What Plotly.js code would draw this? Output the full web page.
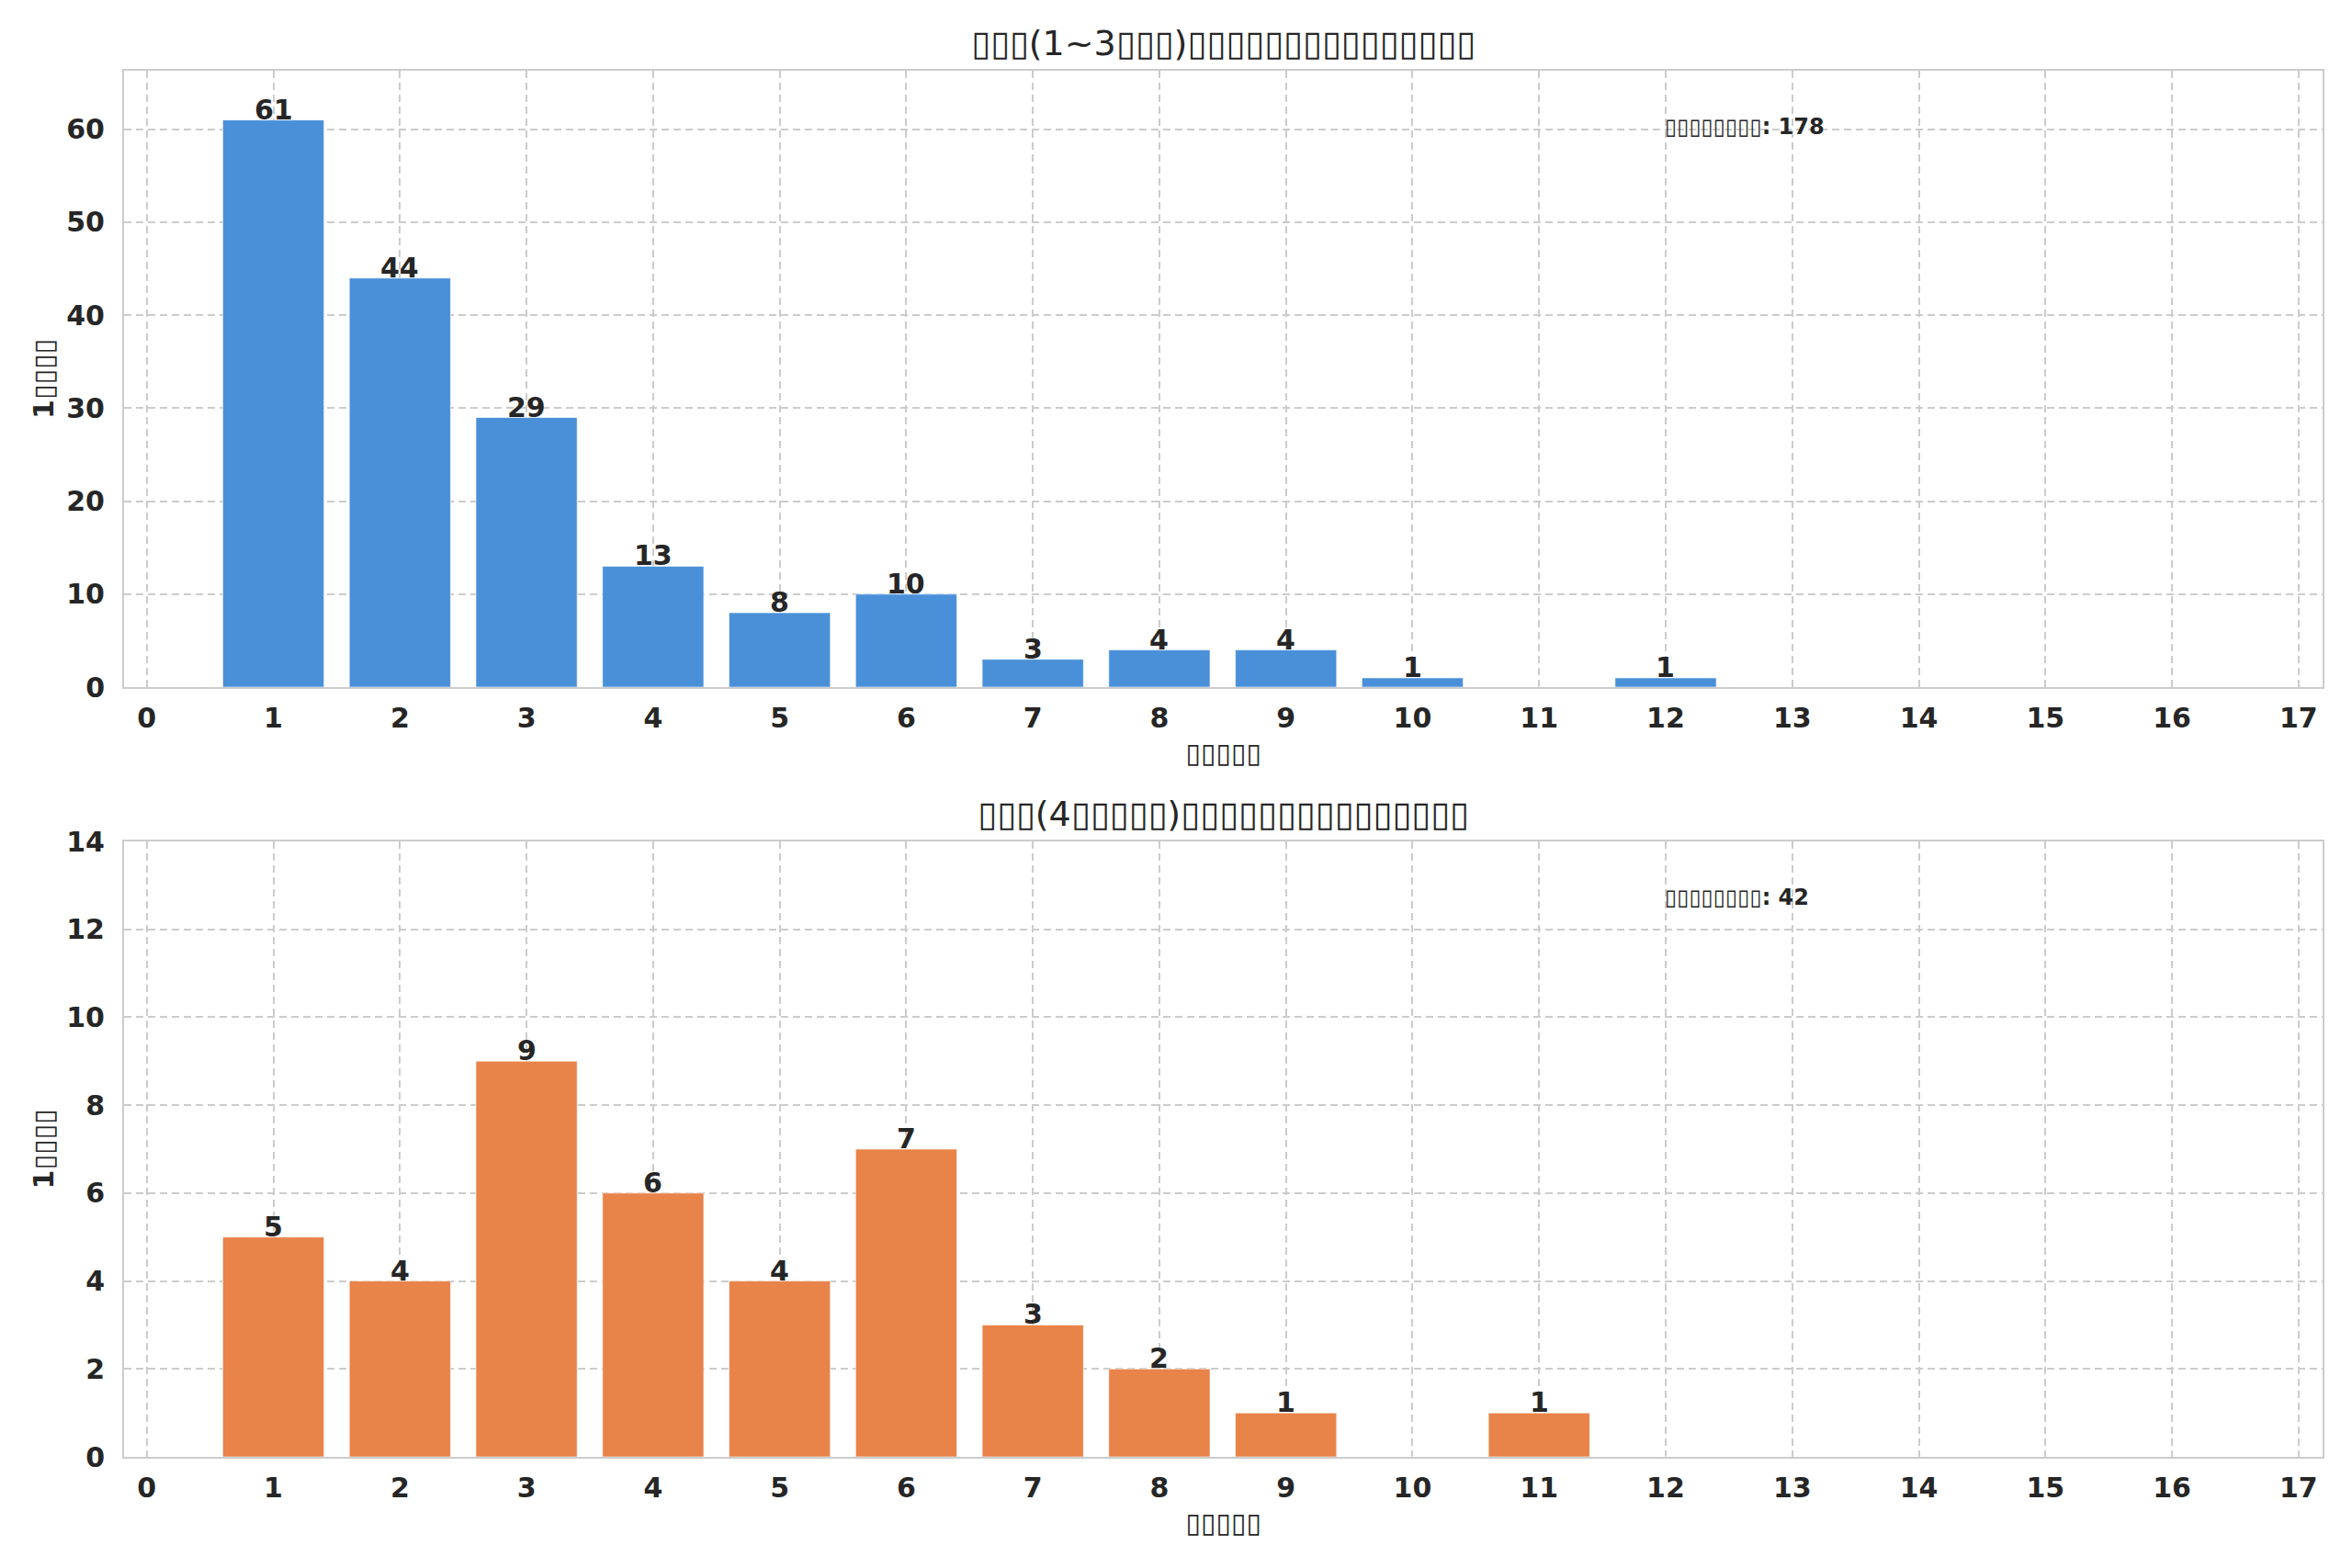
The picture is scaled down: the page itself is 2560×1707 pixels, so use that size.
<!DOCTYPE html>
<html>
<head>
<meta charset="utf-8">
<script src="https://cdn.plot.ly/plotly-3.0.1.min.js"></script>
<style>
  html, body { margin: 0; padding: 0; background: #ffffff; }
  #chart { width: 2560px; height: 1707px; }
</style>
</head>
<body>
<div id="chart"></div>
<script>
// Data (labels in the source rendered as missing glyphs)
var positions = [1, 2, 3, 4, 5, 6, 7, 8, 9, 10, 11, 12];
var groupA = [61, 44, 29, 13, 8, 10, 3, 4, 4, 1, 0, 1];
var groupB = [5, 4, 9, 6, 4, 7, 3, 2, 1, 0, 1, 0];
var xTicks = [0, 1, 2, 3, 4, 5, 6, 7, 8, 9, 10, 11, 12, 13, 14, 15, 16, 17];

var titleA = "▯▯▯(1~3▯▯▯)▯▯▯▯▯▯▯▯▯▯▯▯▯▯▯";
var titleB = "▯▯▯(4▯▯▯▯▯)▯▯▯▯▯▯▯▯▯▯▯▯▯▯▯";
var xLabel = "▯▯▯▯▯";
var yLabel = "1▯▯▯▯";
var noteLabel = "▯▯▯▯▯▯▯▯";
var totalA = 178;
var totalB = 42;

var textColor = '#262626';
var tickFont = { family: 'DejaVu Sans', size: 30, color: textColor, weight: 'bold' };
var labelFont = { family: 'DejaVu Sans', size: 30, color: textColor, weight: 'bold' };

function barLabels(values, xref, yref) {
  var out = [];
  values.forEach(function (v, i) {
    if (v > 0) {
      out.push({
        text: String(v), x: positions[i], y: v, xref: xref, yref: yref,
        xanchor: 'center', yanchor: 'bottom', yshift: -8, showarrow: false,
        font: tickFont
      });
    }
  });
  return out;
}

var traceA = {
  x: positions,
  y: groupA,
  type: 'bar',
  width: 0.8,
  xaxis: 'x',
  yaxis: 'y',
  marker: { color: '#4a90d9', line: { color: 'rgba(255,255,255,0.6)', width: 1 } },
  hoverinfo: 'x+y'
};

var traceB = {
  x: positions,
  y: groupB,
  type: 'bar',
  width: 0.8,
  xaxis: 'x2',
  yaxis: 'y2',
  marker: { color: '#e8834a', line: { color: 'rgba(255,255,255,0.6)', width: 1 } },
  hoverinfo: 'x+y'
};

function xAxis(anchor) {
  return {
    anchor: anchor,
    range: [-0.18, 17.19],
    tickmode: 'array',
    tickvals: xTicks,
    ticktext: xTicks.map(String),
    tickfont: tickFont,
    ticks: '',
    ticklabelstandoff: 6,
    showgrid: true,
    gridcolor: '#cccccc',
    gridwidth: 2,
    griddash: '8px,5px',
    zeroline: false,
    showline: true,
    mirror: true,
    linecolor: '#cccccc',
    linewidth: 2,
    title: { text: xLabel, font: labelFont, standoff: 11 }
  };
}

function yAxis(anchor, domain, range, dtick) {
  return {
    anchor: anchor,
    domain: domain,
    range: range,
    dtick: dtick,
    tickfont: tickFont,
    ticks: '',
    ticklabelstandoff: 13,
    showgrid: true,
    gridcolor: '#cccccc',
    gridwidth: 2,
    griddash: '8px,5px',
    zeroline: false,
    showline: true,
    mirror: true,
    linecolor: '#cccccc',
    linewidth: 2,
    title: { text: yLabel, font: labelFont, standoff: 5 }
  };
}

var annotations = [
  {
    text: titleA, xref: 'x domain', yref: 'y domain', x: 0.5, y: 1,
    xanchor: 'center', yanchor: 'bottom', yshift: 6, showarrow: false,
    font: { family: 'DejaVu Sans', size: 38, color: textColor }
  },
  {
    text: titleB, xref: 'x2 domain', yref: 'y2 domain', x: 0.5, y: 1,
    xanchor: 'center', yanchor: 'bottom', yshift: 6, showarrow: false,
    font: { family: 'DejaVu Sans', size: 38, color: textColor }
  },
  {
    text: noteLabel + ': ' + totalA, xref: 'x domain', yref: 'y domain',
    x: 0.7, y: 0.95, xanchor: 'left', yanchor: 'top', yshift: -11, showarrow: false,
    font: { family: 'DejaVu Sans', size: 24, color: textColor, weight: 'bold' }
  },
  {
    text: noteLabel + ': ' + totalB, xref: 'x2 domain', yref: 'y2 domain',
    x: 0.7, y: 0.95, xanchor: 'left', yanchor: 'top', yshift: -11, showarrow: false,
    font: { family: 'DejaVu Sans', size: 24, color: textColor, weight: 'bold' }
  }
].concat(barLabels(groupA, 'x', 'y'), barLabels(groupB, 'x2', 'y2'));

var layout = {
  width: 2560,
  height: 1707,
  margin: { l: 135, r: 32, t: 77, b: 121 },
  paper_bgcolor: '#ffffff',
  plot_bgcolor: '#ffffff',
  showlegend: false,
  font: { family: 'DejaVu Sans', color: textColor },
  xaxis: xAxis('y'),
  yaxis: yAxis('x', [0.5553, 1], [0, 66.3], 10),
  xaxis2: xAxis('y2'),
  yaxis2: yAxis('x2', [0, 0.444], [0, 14], 2),
  annotations: annotations
};

Plotly.newPlot('chart', [traceA, traceB], layout, { displayModeBar: false, staticPlot: true });
</script>
</body>
</html>
